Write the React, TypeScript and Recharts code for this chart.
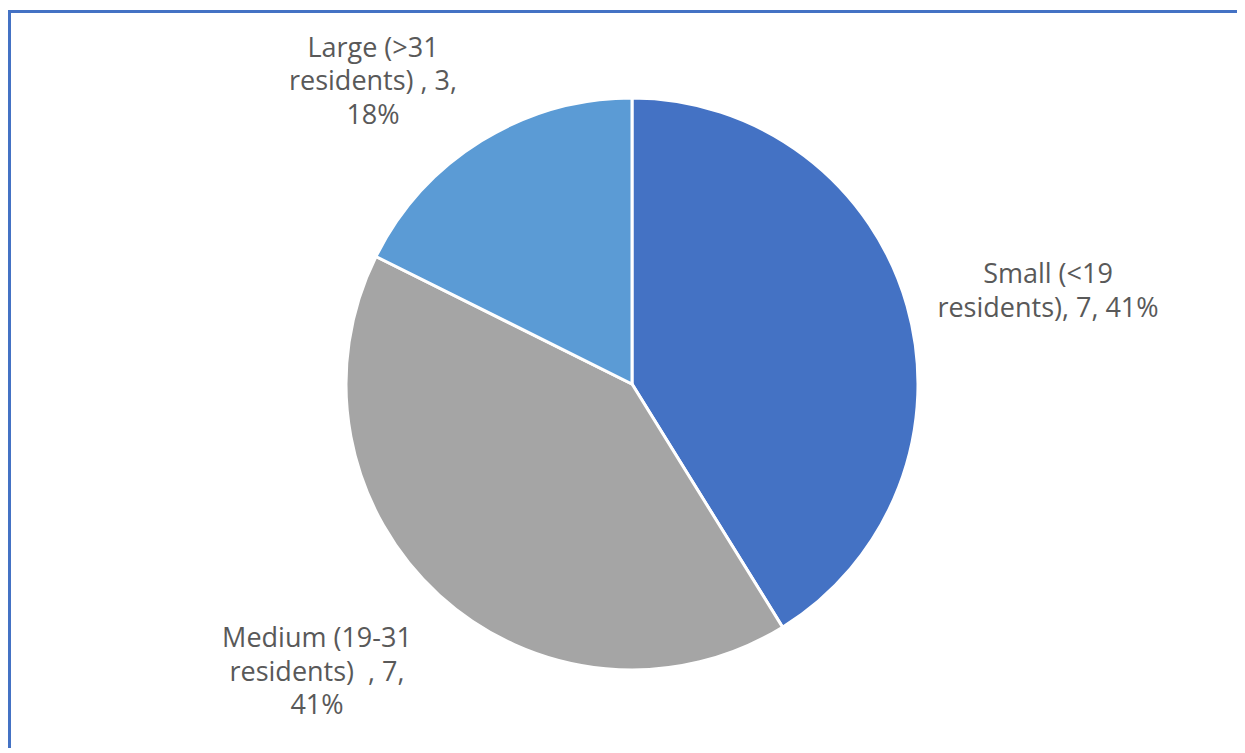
import { PieChart, Pie, Cell } from "recharts";

const categories = ["Small (<19 residents)", "Medium (19-31 residents)", "Large (>31 residents)"];
const values = [7, 7, 3];
const COLORS = ["#4472C4", "#A5A5A5", "#5B9BD5"];

// how each data label breaks into lines (Excel wraps them like this)
const labelBreaks = [
  (v: number, p: number) => ["Small (<19", `residents), ${v}, ${p}%`],
  (v: number, p: number) => ["Medium (19-31", `residents)  , ${v},`, `${p}%`],
  (v: number, p: number) => ["Large (>31", `residents) , ${v},`, `${p}%`],
];
// label centre x and first baseline, offset from pie centre
const labelOffsets = [
  { dx: 416, dy: -100.7 },
  { dx: -315, dy: 263.3 },
  { dx: -259, dy: -327.3 },
];

const total = values.reduce((a, b) => a + b, 0);
const data = categories.map((name, i) => ({ name, value: values[i] }));

const LINE_H = 33.5;

function renderLabel(props: any) {
  const { cx, cy, index, value } = props;
  const pct = Math.round((value / total) * 100);
  const lines = labelBreaks[index](value, pct);
  const off = labelOffsets[index];
  const x = cx + off.dx;
  const y0 = cy + off.dy;
  return (
    <text
      key={index}
      x={x}
      y={y0}
      textAnchor="middle"
      fill="#595959"
      fontSize={27}
      fontFamily="'Open Sans', sans-serif"
      style={{ whiteSpace: "pre" }}
    >
      {lines.map((l, i) => (
        <tspan key={i} x={x} y={y0 + i * LINE_H}>
          {l}
        </tspan>
      ))}
    </text>
  );
}

export default function App() {
  return (
    <div
      style={{
        marginTop: 2,
        width: 1234,
        height: 735,
        borderTop: "3px solid #4472C4",
        borderLeft: "3px solid #4472C4",
        background: "#fff",
        overflow: "hidden",
      }}
    >
      <PieChart width={1234} height={732}>
        <Pie
          data={data}
          dataKey="value"
          nameKey="name"
          cx={616}
          cy={366}
          outerRadius={286}
          startAngle={90}
          endAngle={-270}
          stroke="#fff"
          strokeWidth={3}
          label={renderLabel}
          labelLine={false}
          isAnimationActive={false}
        >
          {data.map((_, i) => (
            <Cell key={i} fill={COLORS[i]} />
          ))}
        </Pie>
      </PieChart>
    </div>
  );
}
